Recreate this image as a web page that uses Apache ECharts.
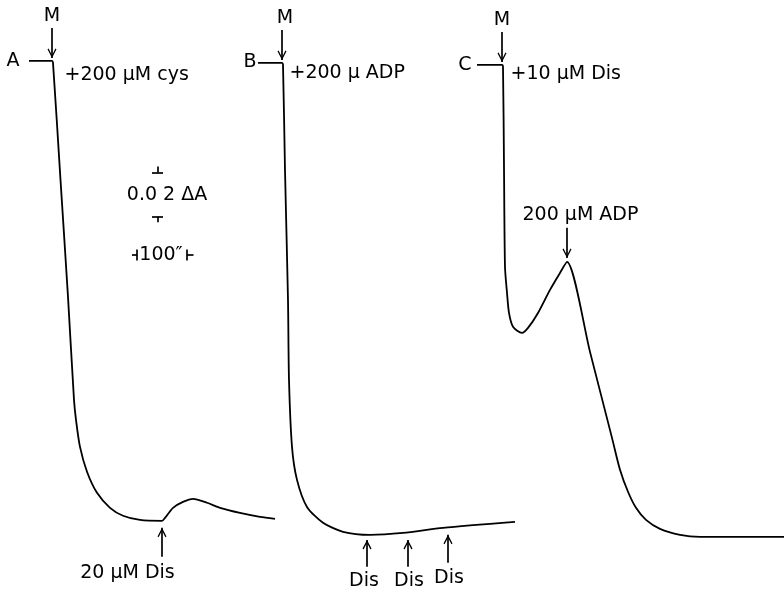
<!DOCTYPE html>
<html>
<head>
<meta charset="utf-8">
<script src="https://cdn.jsdelivr.net/npm/echarts@6/dist/echarts.min.js"></script>
<style>html,body{margin:0;background:#fff}#chart{width:784px;height:596px}</style>
</head>
<body>
<div id="chart"></div>
<script>
// time after adding M (s) and change in absorbance (ΔA), one pair per trace
const timeA = [-46, 0, 2, 17, 32, 44, 48, 56, 70, 90, 116, 142, 176, 220, 226, 242, 262, 282, 310, 336, 376, 416, 446]
const absA = [0.0003, 0.0003, -0.0006, -0.0538, -0.1070, -0.1538, -0.1629, -0.1752, -0.1865, -0.1961, -0.2029, -0.2065, -0.2084, -0.2088, -0.2075, -0.2029, -0.2002, -0.1988, -0.2006, -0.2029, -0.2052, -0.2070, -0.2079]

const timeB = [-48, 0, 2, 6, 12, 14, 20, 30, 50, 82, 122, 176, 242, 322, 466]
const absB = [-0.0006, -0.0006, -0.0015, -0.0493, -0.1084, -0.1447, -0.1752, -0.1902, -0.2025, -0.2097, -0.2138, -0.2152, -0.2143, -0.2120, -0.2093]

const timeC = [-50, 0, 2, 4, 6, 10, 14, 22, 40, 52, 72, 96, 116, 130, 176, 220, 236, 252, 268, 288, 316, 356, 396, 564]
const absC = [-0.0015, -0.0015, -0.0025, -0.0479, -0.0934, -0.1051, -0.1143, -0.1206, -0.1234, -0.1211, -0.1143, -0.1038, -0.0961, -0.0911, -0.1320, -0.1711, -0.1856, -0.1956, -0.2029, -0.2084, -0.2125, -0.2152, -0.2161, -0.2161]

// trace letters and the first addition (M) written at the top of each trace
const traceNames = ['A', 'B', 'C']
const traceNameAt = [[-78, 0.0003], [-64, -0.0002], [-74, -0.0015]]
const mLabelAt = [[0, 0.0205], [6, 0.0196], [0, 0.0189]]
const mArrows = [[[0, 0.0153], [0, 0.0016]], [[0, 0.0144], [0, 0.0007]], [[0, 0.0135], [0, -0.0002]]]
const additionText = ['+200 μM cys', '+200 μ ADP', '+10 μM Dis']
const additionAt = [[20, -0.0063], [10, -0.0050], [12, -0.0059]]

// later additions
const disA = { text: '20 μM Dis', at: [151, -0.2325], arrow: [[220, -0.2252], [220, -0.2120]] }
const disBText = ['Dis', 'Dis', 'Dis']
const disBAt = [[164, -0.2360], [254, -0.2360], [334, -0.2347]]
const disBArrows = [[[170, -0.2297], [170, -0.2175]], [[252, -0.2297], [252, -0.2175]], [[332, -0.2279], [332, -0.2152]]]
const adpC = { text: '200 μM ADP', at: [36, -0.0700], arrow: [[130, -0.0756], [130, -0.0893]] }

// calibration bars (drawn on trace A's axes)
const scaleAbs = 0.02
const scaleTime = 100
const absBarTop = -0.0504
const absBarT = 211
const timeBarStart = 170
const timeBarAbs = -0.0879

const font = 'DejaVu Sans'
const gridLeft = [2, 232, 452]
const arrowHead = 'path://M5,-9.4L5.02,-9.4L5,-9.38Z M5,0L10,8.6L8.8,9.4L5,2.8L1.2,9.4L0,8.6Z'

function seg (from, to) {
  return [{ coord: from, symbol: 'none' }, { coord: to, symbol: 'none' }]
}
function arrow (from, to) {
  return [{ coord: from, symbol: 'none' }, { coord: to, symbol: arrowHead, symbolSize: [9, 19] }]
}
function text (coord, str, pos) {
  return { coord: coord, name: str, label: { position: pos || 'inside' } }
}
function zip (t, a) {
  return t.map(function (v, i) { return [v, a[i]] })
}

const lines = [[], [], []]
const labels = [[], [], []]
for (let i = 0; i < 3; i++) {
  lines[i].push(arrow(mArrows[i][0], mArrows[i][1]))
  labels[i].push(text(mLabelAt[i], 'M'))
  labels[i].push(text(traceNameAt[i], traceNames[i]))
  labels[i].push(text(additionAt[i], additionText[i], 'right'))
}
lines[0].push(arrow(disA.arrow[0], disA.arrow[1]))
labels[0].push(text(disA.at, disA.text))
disBArrows.forEach(function (a, k) {
  lines[1].push(arrow(a[0], a[1]))
  labels[1].push(text(disBAt[k], disBText[k]))
})
lines[2].push(arrow(adpC.arrow[0], adpC.arrow[1]))
labels[2].push(text(adpC.at, adpC.text, 'right'))

// 0.02 ΔA bar: ⊥ above the label, T below it
const absBarBottom = absBarTop - scaleAbs
lines[0].push(seg([absBarT - 11, absBarTop], [absBarT + 11, absBarTop]))
lines[0].push(seg([absBarT, absBarTop], [absBarT, absBarTop + 0.0027]))
lines[0].push(seg([absBarT - 11, absBarBottom], [absBarT + 11, absBarBottom]))
lines[0].push(seg([absBarT, absBarBottom], [absBarT, absBarBottom - 0.0027]))
labels[0].push(text([230, -0.0606], '0.0 2 ΔA'))
// 100 s bar: ⊣ 100″ ⊢
const timeBarEnd = timeBarStart + scaleTime
lines[0].push(seg([timeBarStart - 10, timeBarAbs], [timeBarStart, timeBarAbs]))
lines[0].push(seg([timeBarStart, timeBarAbs + 0.0025], [timeBarStart, timeBarAbs - 0.0025]))
lines[0].push(seg([timeBarEnd, timeBarAbs], [timeBarEnd + 13, timeBarAbs]))
lines[0].push(seg([timeBarEnd, timeBarAbs + 0.0025], [timeBarEnd, timeBarAbs - 0.0025]))
labels[0].push(text([218, timeBarAbs], '100″'))

const traces = [zip(timeA, absA), zip(timeB, absB), zip(timeC, absC)]

var myChart = echarts.init(document.getElementById('chart'))
myChart.setOption({
  animation: false,
  backgroundColor: '#fff',
  grid: gridLeft.map(function (l) {
    return { left: l, top: 0, width: 332, height: 596 }
  }),
  xAxis: [0, 1, 2].map(function (i) {
    return { type: 'value', gridIndex: i, min: -100, max: 564, show: false }
  }),
  yAxis: [0, 1, 2].map(function (i) {
    return { type: 'value', gridIndex: i, min: -0.243, max: 0.028, show: false }
  }),
  series: traces.map(function (d, i) {
    return {
      type: 'line',
      xAxisIndex: i,
      yAxisIndex: i,
      data: d,
      color: '#000',
      showSymbol: false,
      silent: true,
      smooth: 0.25,
      clip: false,
      lineStyle: { color: '#000', width: 1.8 },
      markLine: {
        silent: true,
        label: { show: false },
        lineStyle: { color: '#000', width: 1.7, type: 'solid' },
        emphasis: { disabled: true },
        data: lines[i]
      },
      markPoint: {
        silent: true,
        symbol: 'circle',
        symbolSize: 1,
        itemStyle: { color: 'rgba(0,0,0,0)' },
        label: { show: true, formatter: '{b}', color: '#000', fontFamily: font, fontSize: 19, distance: 2 },
        data: labels[i]
      }
    }
  })
})
</script>
</body>
</html>
